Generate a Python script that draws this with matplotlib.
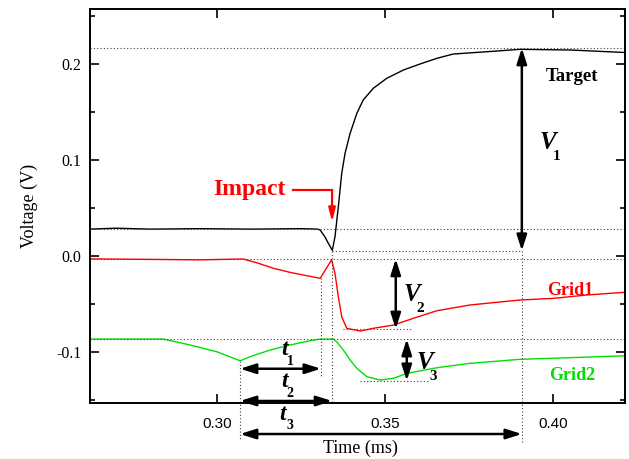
import matplotlib
matplotlib.use('Agg')
import matplotlib.pyplot as plt
from matplotlib.ticker import MultipleLocator

# --- data (time in ms, voltage in V) ---
target_t = [0.2622, 0.2700, 0.2800, 0.2950, 0.3100, 0.3250, 0.3300, 0.3307, 0.3321,
            0.3330, 0.3343, 0.3351, 0.3361, 0.3371, 0.3381, 0.3396, 0.3416, 0.3435,
            0.3465, 0.3505, 0.3555, 0.3604, 0.3654, 0.3703, 0.3803, 0.3902, 0.4051,
            0.4214]
target_v = [0.0280, 0.0290, 0.0280, 0.0285, 0.0280, 0.0285, 0.0280, 0.0270, 0.0200,
            0.0140, 0.0060, 0.0200, 0.0514, 0.0861, 0.1070, 0.1278, 0.1486, 0.1625,
            0.1747, 0.1851, 0.1938, 0.2000, 0.2059, 0.2104, 0.2128, 0.2153, 0.2146,
            0.2120]

grid1_t = [0.2622, 0.2800, 0.2950, 0.3078, 0.3118, 0.3168, 0.3217, 0.3257, 0.3307,
           0.3341, 0.3351, 0.3361, 0.3371, 0.3386, 0.3426, 0.3465, 0.3525, 0.3584,
           0.3654, 0.3753, 0.3902, 0.4001, 0.4100, 0.4214]
grid1_v = [-0.0030, -0.0035, -0.0040, -0.0031, -0.0070, -0.0128, -0.0170, -0.0198, -0.0232,
           -0.0040, -0.0180, -0.0424, -0.0632, -0.0753, -0.0781, -0.0753, -0.0719, -0.0649,
           -0.0570, -0.0510, -0.0458, -0.0441, -0.0406, -0.0378]

grid2_t = [0.2622, 0.2840, 0.2920, 0.2999, 0.3069, 0.3098, 0.3158, 0.3217, 0.3277,
           0.3307, 0.3346, 0.3356, 0.3376, 0.3396, 0.3416, 0.3446, 0.3485, 0.3525,
           0.3565, 0.3654, 0.3753, 0.3902, 0.4051, 0.4214]
grid2_v = [-0.0865, -0.0865, -0.0927, -0.0997, -0.1091, -0.1049, -0.0979, -0.0927, -0.0882,
           -0.0865, -0.0865, -0.0893, -0.0979, -0.1083, -0.1170, -0.1257, -0.1292, -0.1274,
           -0.1222, -0.1164, -0.1118, -0.1076, -0.1059, -0.1039]

# characteristic levels / times
target_base, target_dip, target_max = 0.028, 0.0055, 0.2167
grid1_base, grid1_min = -0.003, -0.076
grid2_base, grid2_min = -0.0865, -0.130
t_start, t_kink, t_impact, t_peak = 0.30685, 0.3309, 0.33423, 0.3907

xticks = [0.30, 0.35, 0.40]
xticklabels = ['0.30', '0.35', '0.40']
yticks = [-0.1, 0.0, 0.1, 0.2]
yticklabels = ['-0.1', '0.0', '0.1', '0.2']

serif = 'Liberation Serif'
sans = 'Liberation Sans'
green = '#00e000'

fig = plt.figure(figsize=(6.29, 4.59), dpi=100)
ax = fig.add_axes([0.14308, 0.122, 0.85056, 0.85839])
ax.set_xlim(0.2622, 0.4214)
ax.set_ylim(-0.1531, 0.2573)

ax.plot(target_t, target_v, color='k', lw=1.0)
ax.plot(grid1_t, grid1_v, color='red', lw=1.0)
ax.plot(grid2_t, grid2_v, color=green, lw=1.0)

dot = dict(color='0.25', lw=0.8, ls=(0, (1, 2)))
# horizontal reference levels
for lev in [target_max, target_base, grid1_base, grid2_base]:
    ax.axhline(lev, **dot)
ax.plot([t_impact, t_peak], [target_dip, target_dip], **dot)
ax.plot([0.3375, 0.3577], [grid1_min, grid1_min], **dot)
ax.plot([0.3426, 0.3628], [grid2_min, grid2_min], **dot)
# vertical reference times
ax.plot([t_start, t_start], [-0.1094, -0.1917], clip_on=False, **dot)
ax.plot([t_kink, t_kink], [-0.023, -0.125], clip_on=False, **dot)
ax.plot([t_impact, t_impact], [target_dip, -0.153], clip_on=False, **dot)
ax.plot([t_peak, t_peak], [target_dip, -0.195], clip_on=False, **dot)

astyle = '<|-|>,head_length=0.47,head_width=0.15'
def darrow(p0, p1):
    ax.annotate('', xy=p1, xytext=p0, annotation_clip=False,
                arrowprops=dict(arrowstyle=astyle, color='k', lw=1.8,
                                mutation_scale=20, shrinkA=0, shrinkB=0))

darrow((t_peak, target_dip), (t_peak, target_max))
darrow((0.35318, grid1_min), (0.35318, grid1_base))
darrow((0.35646, grid2_min), (0.35646, grid2_base))
darrow((t_start, -0.1174), (t_kink, -0.1174))
darrow((t_start, -0.151), (t_impact, -0.151))
darrow((t_start, -0.1854), (t_peak, -0.1854))

# symbol labels with subscripts
def sym(letter, sub, x, y, dx, dy, size, subsize):
    ax.text(x, y, letter, fontsize=size, fontfamily=serif, fontstyle='italic',
            fontweight='bold', ha='center', va='center')
    ax.text(x + dx, y + dy, sub, fontsize=subsize, fontfamily=serif,
            fontweight='bold', ha='center', va='center')

sym('V', '1', 0.39850, 0.1185, 0.0026, -0.0145, 18, 11)
sym('V', '2', 0.35800, -0.0400, 0.0026, -0.0145, 18, 11)
sym('V', '3', 0.36170, -0.1105, 0.0026, -0.0145, 18, 11)
sym('t', '1', 0.32000, -0.0975, 0.0018, -0.0120, 17, 10)
sym('t', '2', 0.32000, -0.1310, 0.0018, -0.0120, 17, 10)
sym('t', '3', 0.31964, -0.1650, 0.0022, -0.0120, 17, 10)

ax.text(0.40565, 0.1865, 'Target', color='k', fontsize=13.5, fontfamily=serif,
        fontweight='bold', ha='center', va='center')
ax.text(0.40506, -0.0354, 'Grid1', color='red', fontsize=13, fontfamily=serif,
        fontweight='bold', ha='center', va='center')
ax.text(0.40565, -0.124, 'Grid2', color=green, fontsize=13, fontfamily=serif,
        fontweight='bold', ha='center', va='center')

# Impact marker
ax.text(0.30952, 0.0688, 'Impact', color='red', fontsize=17, fontfamily=serif,
        fontweight='bold', ha='center', va='center')
ax.plot([0.32262, t_impact], [0.06875, 0.06875], color='red', lw=1.6,
        solid_capstyle='projecting')
ax.annotate('', xy=(t_impact, 0.0354), xytext=(t_impact, 0.06875),
            arrowprops=dict(arrowstyle='-|>,head_length=0.4,head_width=0.1',
                            color='red', lw=1.6, mutation_scale=20,
                            shrinkA=0, shrinkB=0))

ax.set_xticks(xticks)
ax.set_xticklabels(xticklabels, fontfamily=sans, fontsize=11)
ax.set_yticks(yticks)
ax.set_yticklabels(yticklabels, fontfamily=serif, fontsize=11.5)
ax.yaxis.set_minor_locator(MultipleLocator(0.05))
ax.tick_params(which='both', direction='in', top=True, right=True, width=1.2)
ax.tick_params(which='major', length=6.5)
ax.tick_params(which='minor', length=3.5)
ax.tick_params(axis='x', pad=10)
ax.tick_params(axis='y', pad=6)
for sp in ax.spines.values():
    sp.set_linewidth(1.4)

ax.set_xlabel('Time (ms)', fontfamily=serif, fontsize=13)
ax.set_ylabel('Voltage (V)', fontfamily=serif, fontsize=13)
ax.xaxis.set_label_coords(0.505, -0.094)
ax.yaxis.set_label_coords(-0.098, 0.5)

fig.savefig('out.png', dpi=100)
